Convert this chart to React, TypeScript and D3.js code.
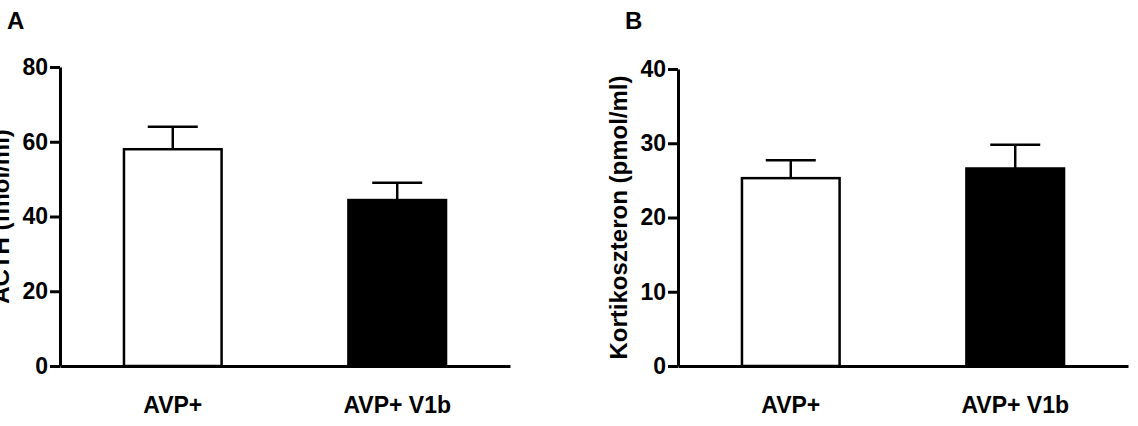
import * as d3 from 'd3'
import { useRef, useEffect } from 'react'

const categories = ['AVP+', 'AVP+ V1b']
const acthMean = [58.0, 44.4]
const acthSem = [6.0, 4.6]
const acthTicks = [0, 20, 40, 60, 80]
const kortMean = [25.3, 26.6]
const kortSem = [2.4, 3.2]
const kortTicks = [0, 10, 20, 30, 40]

const font = '"Liberation Sans", Arial, sans-serif'

type PanelProps = {
  letter: string
  yLabel: string
  means: number[]
  sems: number[]
  ticks: number[]
  yMax: number
  left: number
  top: number
  bottom?: number
  plotWidth?: number
}

function Panel({
  letter,
  yLabel,
  means,
  sems,
  ticks,
  yMax,
  left,
  top,
  bottom = 366,
  plotWidth = 450,
}: PanelProps) {
  const gx = useRef<SVGGElement>(null)
  const gy = useRef<SVGGElement>(null)
  const x = d3
    .scaleBand<string>()
    .domain(categories)
    .range([left, left + plotWidth])
    .paddingInner(0.565)
    .paddingOuter(0.285)
  const y = d3.scaleLinear([0, yMax], [bottom, top])

  useEffect(() => {
    const g = d3.select(gy.current)
    g.call(
      d3.axisLeft(y).tickValues(ticks).tickSize(10).tickSizeOuter(0).tickPadding(2) as any
    )
    g.selectAll('path, line').attr('stroke', '#000').attr('stroke-width', 3)
    g.selectAll('text')
      .attr('font-family', font)
      .attr('font-weight', 'bold')
      .attr('font-size', 23)
      .attr('fill', '#000')
  }, [ticks, y])

  useEffect(() => {
    const g = d3.select(gx.current)
    g.call(d3.axisBottom(x).tickSize(0).tickSizeOuter(0).tickPadding(31) as any)
    g.selectAll('path').attr('stroke', '#000').attr('stroke-width', 3)
    g.selectAll('text')
      .attr('font-family', font)
      .attr('font-weight', 'bold')
      .attr('font-size', 23)
      .attr('fill', '#000')
  }, [x])

  const bw = x.bandwidth()
  const capHalf = 25

  return (
    <g>
      <text
        x={left - 53}
        y={29}
        fontFamily={font}
        fontWeight="bold"
        fontSize={24}
      >
        {letter}
      </text>
      <text
        transform={`translate(${left - 51},${(top + bottom) / 2}) rotate(-90)`}
        textAnchor="middle"
        fontFamily={font}
        fontWeight="bold"
        fontSize={24}
      >
        {yLabel}
      </text>
      {categories.map((c, i) => {
        const cx = (x(c) ?? 0) + bw / 2
        return (
          <g key={c} stroke="#000">
            <line
              x1={cx}
              x2={cx}
              y1={y(means[i])}
              y2={y(means[i] + sems[i])}
              strokeWidth={2.5}
            />
            <line
              x1={cx - capHalf}
              x2={cx + capHalf}
              y1={y(means[i] + sems[i])}
              y2={y(means[i] + sems[i])}
              strokeWidth={2.5}
            />
            <rect
              x={x(c)}
              y={y(means[i])}
              width={bw}
              height={y(0) - y(means[i])}
              fill={i === 0 ? '#fff' : '#000'}
              strokeWidth={2.5}
            />
          </g>
        )
      })}
      <g ref={gx} transform={`translate(0,${bottom})`} />
      <g ref={gy} transform={`translate(${left},0)`} />
    </g>
  )
}

export default function App() {
  return (
    <svg
      width={1138}
      height={426}
      style={{ position: 'absolute', left: 0, top: 0, background: '#fff' }}
    >
      <Panel
        letter="A"
        yLabel="ACTH (fmol/ml)"
        means={acthMean}
        sems={acthSem}
        ticks={acthTicks}
        yMax={80}
        left={60}
        top={67}
      />
      <Panel
        letter="B"
        yLabel="Kortikoszteron (pmol/ml)"
        means={kortMean}
        sems={kortSem}
        ticks={kortTicks}
        yMax={40}
        left={678}
        top={69}
      />
    </svg>
  )
}
